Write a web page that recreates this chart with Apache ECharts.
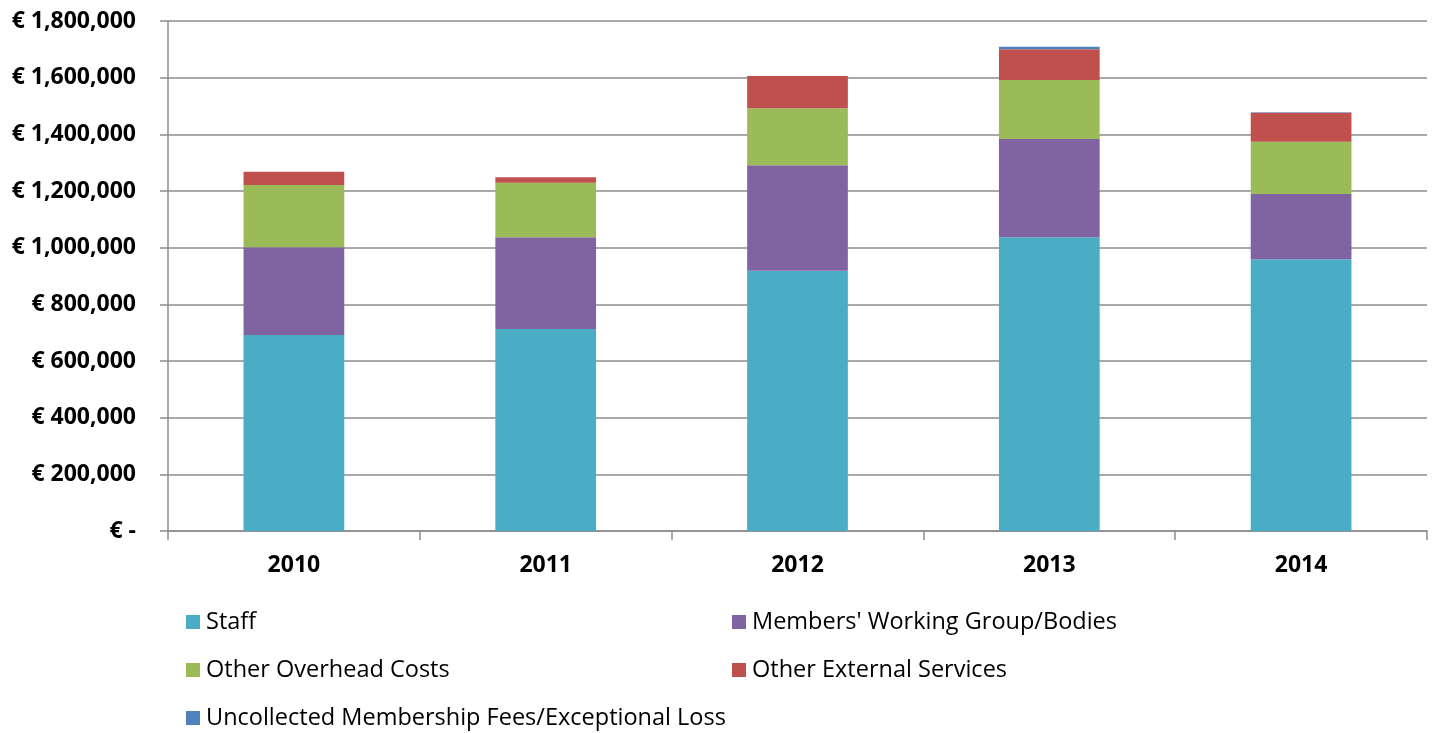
<!DOCTYPE html>
<html>
<head>
<meta charset="utf-8">
<script src="https://cdn.jsdelivr.net/npm/echarts@6/dist/echarts.min.js"></script>
<style>
  html, body { margin: 0; padding: 0; background: #fff; }
  #chart { width: 1434px; height: 733px; }
</style>
</head>
<body>
<div id="chart"></div>
<script>
const years = ['2010', '2011', '2012', '2013', '2014']
const staff = [691700, 712900, 918600, 1036500, 958900]
const members = [309500, 323600, 371900, 346900, 230400]
const overhead = [220000, 192700, 201200, 208200, 184600]
const external = [47000, 19000, 114000, 108400, 102300]
const uncollected = [0, 0, 0, 9200, 1500]

const seriesNames = [
  'Staff',
  "Members' Working Group/Bodies",
  'Other Overhead Costs',
  'Other External Services',
  'Uncollected Membership Fees/Exceptional Loss'
]
const colors = ['#4BACC6', '#8064A2', '#9BBB59', '#C0504D', '#4F81BD']
const values = [staff, members, overhead, external, uncollected]

// legend positions (two columns like the original)
const legendPos = [[186, 610], [732, 610], [186, 658], [732, 658], [186, 706]]

const fmt = (v) => (v === 0 ? '€ -' : '€ ' + v.toLocaleString('en-US'))

const chart = echarts.init(document.getElementById('chart'))
chart.setOption({
  animation: false,
  color: colors,
  textStyle: { fontFamily: 'Open Sans' },
  grid: { left: 168, right: 7, top: 21, bottom: 202 },
  legend: seriesNames.map((n, i) => ({
    data: [n],
    left: legendPos[i][0],
    top: legendPos[i][1],
    padding: 0,
    icon: 'rect',
    itemWidth: 14,
    itemHeight: 14,
    textStyle: { fontSize: 23.5, color: '#000', fontFamily: 'Open Sans', padding: [0, 0, 0, 1] }
  })),
  xAxis: {
    type: 'category',
    data: years,
    axisLine: { lineStyle: { color: '#8c8c8c', width: 1.5 } },
    axisTick: { show: true, length: 9, lineStyle: { color: '#8c8c8c', width: 1.5 } },
    axisLabel: { fontSize: 23, fontWeight: 'bold', color: '#000', margin: 23 }
  },
  yAxis: {
    type: 'value',
    min: 0,
    max: 1800000,
    interval: 200000,
    axisLine: { show: true, lineStyle: { color: '#8c8c8c', width: 1.5 } },
    axisTick: { show: true, length: 8, lineStyle: { color: '#8c8c8c', width: 1.5 } },
    splitLine: { lineStyle: { color: '#8c8c8c', width: 1.5 } },
    axisLabel: { fontSize: 23, fontWeight: 'bold', color: '#000', margin: 32, formatter: fmt }
  },
  series: seriesNames.map((n, i) => ({
    name: n,
    type: 'bar',
    stack: 'total',
    barWidth: '40%',
    data: values[i],
    itemStyle: { color: colors[i] }
  }))
})
</script>
</body>
</html>
